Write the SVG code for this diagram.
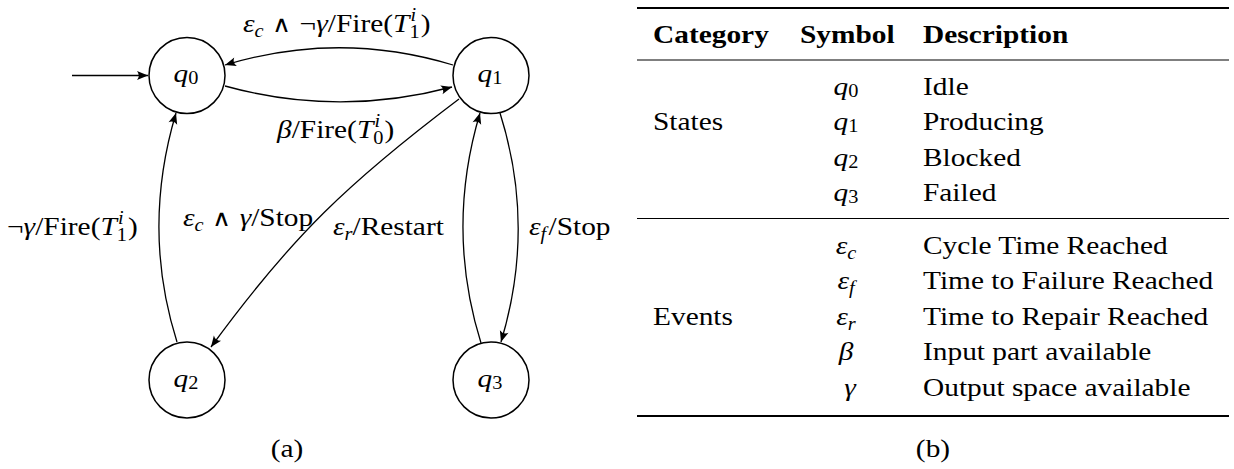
<svg xmlns="http://www.w3.org/2000/svg" width="1234" height="469" viewBox="0 0 1234 469">
<style>
.t{font-family:"Liberation Serif","DejaVu Serif",serif;font-size:26px;fill:#000}
.m{font-style:italic}
.s{font-size:18px}
.b{font-weight:bold}
.op{font-family:"DejaVu Sans",sans-serif;font-weight:200;font-size:23px}
.node{fill:#fff;stroke:#000;stroke-width:1.5}
.edge{fill:none;stroke:#000;stroke-width:1.3;marker-end:url(#arr)}
.rule{stroke:#000}
</style>
<defs>
<marker id="arr" viewBox="-12 -6 13 12" refX="0" refY="0" markerWidth="13" markerHeight="12" markerUnits="userSpaceOnUse" orient="auto">
<path d="M0,0 L-11,-4.5 Q-7.5,0 -11,4.5 Z" fill="#000"/>
</marker>
</defs>
<rect width="1234" height="469" fill="#fff"/>

<g id="connectors">
<path class="edge" d="M72,75.5 L148,75.5"/>
<path class="edge" d="M453,65 C377,42 301,42 225,65"/>
<path class="edge" d="M225,86 C301,107 377,107 452,87"/>
<path class="edge" d="M177,342 C153,266 153,190 176,113"/>
<path class="edge" d="M500,113 C524,189 524,266 501,342"/>
<path class="edge" d="M481,343 C457,266 457,190 480,113"/>
<path class="edge" d="M459,99 C349,182 292,236 211,347"/>
</g>

<g id="edge-labels">
<text class="t" transform="translate(243,32) scale(1.13,1)"><tspan class="m">ε</tspan><tspan class="m s" dy="5">c</tspan><tspan dy="-5"> </tspan><tspan class="op" dx="1">∧</tspan><tspan dx="1"> ¬</tspan><tspan class="m">γ</tspan>/Fire(<tspan class="m">T</tspan><tspan class="m s" dx="1" dy="-11">i</tspan><tspan class="s" dx="-6" dy="17">1</tspan><tspan dx="1" dy="-6">)</tspan></text>
<text class="t" transform="translate(277,138) scale(1.13,1)"><tspan class="m">β</tspan>/Fire(<tspan class="m">T</tspan><tspan class="m s" dx="1" dy="-11">i</tspan><tspan class="s" dx="-6" dy="17">0</tspan><tspan dx="1" dy="-6">)</tspan></text>
<text class="t" transform="translate(7,235) scale(1.13,1)">¬<tspan class="m">γ</tspan>/Fire(<tspan class="m">T</tspan><tspan class="m s" dx="1" dy="-11">i</tspan><tspan class="s" dx="-6" dy="17">1</tspan><tspan dx="1" dy="-6">)</tspan></text>
<text class="t" transform="translate(183,226) scale(1.13,1)"><tspan class="m">ε</tspan><tspan class="m s" dy="5">c</tspan><tspan dy="-5"> </tspan><tspan class="op" dx="1">∧</tspan><tspan dx="1"> </tspan><tspan class="m">γ</tspan>/Stop</text>
<text class="t" transform="translate(333,235) scale(1.13,1)"><tspan class="m">ε</tspan><tspan class="m s" dy="5">r</tspan><tspan dy="-5">/Restart</tspan></text>
<text class="t" transform="translate(529,235) scale(1.13,1)"><tspan class="m">ε</tspan><tspan class="m s" dy="5">f</tspan><tspan dx="2" dy="-5">/Stop</tspan></text>
</g>

<g id="q0">
<circle class="node" cx="187" cy="75.5" r="38"/>
<text class="t" text-anchor="middle" transform="translate(186,82) scale(1.13,1)"><tspan class="m">q</tspan><tspan class="s" dy="2">0</tspan></text>
</g>
<g id="q1">
<circle class="node" cx="491" cy="75.5" r="38"/>
<text class="t" text-anchor="middle" transform="translate(490,82) scale(1.13,1)"><tspan class="m">q</tspan><tspan class="s" dy="2">1</tspan></text>
</g>
<g id="q2">
<circle class="node" cx="187" cy="380" r="38"/>
<text class="t" text-anchor="middle" transform="translate(186,387) scale(1.13,1)"><tspan class="m">q</tspan><tspan class="s" dy="2">2</tspan></text>
</g>
<g id="q3">
<circle class="node" cx="491" cy="380" r="38"/>
<text class="t" text-anchor="middle" transform="translate(490,387) scale(1.13,1)"><tspan class="m">q</tspan><tspan class="s" dy="2">3</tspan></text>
</g>

<text class="t" text-anchor="middle" transform="translate(287,457) scale(1.13,1)">(a)</text>

<g id="table">
<line class="rule" x1="637" y1="8" x2="1229" y2="8" stroke-width="2"/>
<line class="rule" x1="637" y1="60" x2="1229" y2="60" stroke-width="1.2"/>
<line class="rule" x1="637" y1="218.5" x2="1229" y2="218.5" stroke-width="1.2"/>
<line class="rule" x1="637" y1="416" x2="1229" y2="416" stroke-width="2"/>

<text class="t b" transform="translate(653,43) scale(1.13,1)">Category</text>
<text class="t b" transform="translate(800,43) scale(1.13,1)">Symbol</text>
<text class="t b" transform="translate(923,43) scale(1.13,1)">Description</text>

<text class="t" transform="translate(653,130) scale(1.13,1)">States</text>
<text class="t" text-anchor="middle" transform="translate(846,94.5) scale(1.13,1)"><tspan class="m">q</tspan><tspan class="s" dy="2">0</tspan></text>
<text class="t" text-anchor="middle" transform="translate(846,130) scale(1.13,1)"><tspan class="m">q</tspan><tspan class="s" dy="2">1</tspan></text>
<text class="t" text-anchor="middle" transform="translate(846,165.5) scale(1.13,1)"><tspan class="m">q</tspan><tspan class="s" dy="2">2</tspan></text>
<text class="t" text-anchor="middle" transform="translate(846,201) scale(1.13,1)"><tspan class="m">q</tspan><tspan class="s" dy="2">3</tspan></text>
<text class="t" transform="translate(923,94.5) scale(1.13,1)">Idle</text>
<text class="t" transform="translate(923,130) scale(1.13,1)">Producing</text>
<text class="t" transform="translate(923,165.5) scale(1.13,1)">Blocked</text>
<text class="t" transform="translate(923,201) scale(1.13,1)">Failed</text>

<text class="t" transform="translate(653,325) scale(1.13,1)">Events</text>
<text class="t" text-anchor="middle" transform="translate(846,253.5) scale(1.13,1)"><tspan class="m">ε</tspan><tspan class="m s" dy="5">c</tspan></text>
<text class="t" text-anchor="middle" transform="translate(846,289) scale(1.13,1)"><tspan class="m">ε</tspan><tspan class="m s" dy="5">f</tspan></text>
<text class="t" text-anchor="middle" transform="translate(846,324.5) scale(1.13,1)"><tspan class="m">ε</tspan><tspan class="m s" dy="5">r</tspan></text>
<text class="t m" text-anchor="middle" transform="translate(846,360) scale(1.13,1)">β</text>
<text class="t m" text-anchor="middle" transform="translate(850,395.5) scale(1.13,1)">γ</text>
<text class="t" transform="translate(923,253.5) scale(1.13,1)">Cycle Time Reached</text>
<text class="t" transform="translate(923,289) scale(1.13,1)">Time to Failure Reached</text>
<text class="t" transform="translate(923,324.5) scale(1.13,1)">Time to Repair Reached</text>
<text class="t" transform="translate(923,360) scale(1.13,1)">Input part available</text>
<text class="t" transform="translate(923,395.5) scale(1.13,1)">Output space available</text>
</g>

<text class="t" text-anchor="middle" transform="translate(933,457) scale(1.13,1)">(b)</text>
</svg>
